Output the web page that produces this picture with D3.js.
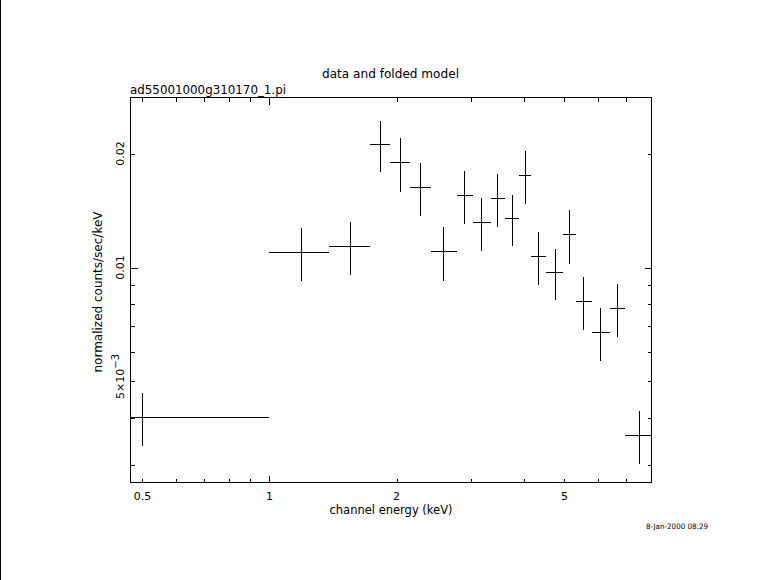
<!DOCTYPE html>
<html>
<head>
<meta charset="utf-8">
<script src="https://cdn.jsdelivr.net/npm/d3@7"></script>
<style>
  html, body { margin: 0; padding: 0; background: #fff; }
  svg { display: block; }
  text { font-family: "DejaVu Sans", sans-serif; fill: #000; }
</style>
</head>
<body>
<svg id="chart" width="781" height="580"></svg>
<script>
// ---- data ----
const binLo   = [0.45, 1.0, 1.38, 1.735, 1.935, 2.152, 2.413, 2.782, 3.03, 3.344, 3.614, 3.912, 4.166, 4.533, 4.974, 5.325, 5.811, 6.411, 6.958];
const binHi   = [1.0, 1.38, 1.735, 1.935, 2.152, 2.413, 2.782, 3.03, 3.344, 3.614, 3.912, 4.166, 4.533, 4.974, 5.325, 5.811, 6.411, 6.958, 8.08];
const energy  = [0.5, 1.19, 1.552, 1.833, 2.046, 2.277, 2.581, 2.894, 3.177, 3.466, 3.762, 4.038, 4.335, 4.757, 5.145, 5.541, 6.080, 6.671, 7.52];
const rate    = [0.004017, 0.01095, 0.01136, 0.02114, 0.01894, 0.01626, 0.01102, 0.01549, 0.01315, 0.01521, 0.01347, 0.0175, 0.01071, 0.0097, 0.01222, 0.00813, 0.00673, 0.00779, 0.0036];
const rateErr = [0.00064, 0.00173, 0.0018, 0.0033, 0.0031, 0.0026, 0.0018, 0.0025, 0.0021, 0.0024, 0.0021, 0.0028, 0.0017, 0.0015, 0.002, 0.0013, 0.00107, 0.00124, 0.00058];

const xMinorTicks = [0.5, 0.6, 0.7, 0.8, 0.9, 2, 3, 4, 5, 6, 7, 8];
const xMajorTicks = [1];
const yMinorTicks = [0.003, 0.004, 0.005, 0.006, 0.007, 0.008, 0.009, 0.02];
const yMajorTicks = [0.01];
const xTickLabelValues = [0.5, 1, 2, 5];
const xTickLabels = ["0.5", "1", "2", "5"];
const yTickLabelValues = [0.02, 0.01];
const yTickLabels = ["0.02", "0.01"];

const titleText = "data and folded model";
const fileText = "ad55001000g310170_1.pi";
const xLabelText = "channel energy (keV)";
const yLabelText = "normalized counts/sec/keV";
const dateText = "8-Jan-2000 08:29";

// ---- layout ----
const L = 130.5, R = 651.5, T = 97.5, B = 482.5;
const x = d3.scaleLog().domain([0.4684, 8.04]).range([L, R]);
const y = d3.scaleLog().domain([0.002705, 0.02812]).range([B, T]);
const px = v => Math.floor(v) + 0.5;

const svg = d3.select("#chart");
svg.append("rect").attr("width", 781).attr("height", 580).attr("fill", "#fff");

// left edge line of the page
svg.append("line").attr("x1", 0.5).attr("x2", 0.5).attr("y1", 0).attr("y2", 580)
  .attr("stroke", "#000").attr("stroke-width", 1);

// clip
svg.append("clipPath").attr("id", "plotclip").append("rect")
  .attr("x", L).attr("y", T).attr("width", R - L).attr("height", B - T);

// axes ticks (inside)
function tickAxis(axisFn, scale, vals, size, transform) {
  const g = svg.append("g").attr("transform", transform)
    .call(axisFn(scale).tickValues(vals).tickSizeInner(-size).tickSizeOuter(0).tickFormat(""));
  g.select(".domain").remove();
  g.selectAll("line").attr("stroke", "#000").attr("shape-rendering", "crispEdges");
  g.selectAll(".tick").attr("transform", function () {
    const t = d3.select(this).attr("transform");
    const m = /translate\(([-\d.e]+),([-\d.e]+)\)/.exec(t);
    const a = +m[1], b = +m[2];
    return (axisFn === d3.axisBottom || axisFn === d3.axisTop)
      ? `translate(${px(a) - 0.5},0)` : `translate(0,${px(b) - 0.5})`;
  });
  return g;
}
tickAxis(d3.axisBottom, x, xMinorTicks, 4, `translate(0,${B})`);
tickAxis(d3.axisBottom, x, xMajorTicks, 7, `translate(0,${B})`);
tickAxis(d3.axisTop, x, xMinorTicks, 4, `translate(0,${T})`);
tickAxis(d3.axisTop, x, xMajorTicks, 7, `translate(0,${T})`);
tickAxis(d3.axisLeft, y, yMinorTicks, 4, `translate(${L},0)`);
tickAxis(d3.axisLeft, y, yMajorTicks, 7, `translate(${L},0)`);
tickAxis(d3.axisRight, y, yMinorTicks, 4, `translate(${R},0)`);
tickAxis(d3.axisRight, y, yMajorTicks, 7, `translate(${R},0)`);

// frame
svg.append("rect").attr("x", L).attr("y", T).attr("width", R - L).attr("height", B - T)
  .attr("fill", "none").attr("stroke", "#000").attr("stroke-width", 1)
  .attr("shape-rendering", "crispEdges");

// data crosses
const pts = energy.map((e, i) => ({ e, lo: binLo[i], hi: binHi[i], r: rate[i], err: rateErr[i] }));
const gData = svg.append("g").attr("clip-path", "url(#plotclip)")
  .attr("stroke", "#000").attr("stroke-width", 1).attr("shape-rendering", "crispEdges");
gData.selectAll("line.h").data(pts).join("line").attr("class", "h")
  .attr("x1", d => x(d.lo)).attr("x2", d => x(d.hi))
  .attr("y1", d => px(y(d.r))).attr("y2", d => px(y(d.r)));
gData.selectAll("line.v").data(pts).join("line").attr("class", "v")
  .attr("x1", d => px(x(d.e))).attr("x2", d => px(x(d.e)))
  .attr("y1", d => y(d.r - d.err)).attr("y2", d => y(d.r + d.err));

// x tick labels
svg.append("g").selectAll("text").data(xTickLabelValues).join("text")
  .attr("x", d => x(d)).attr("y", 499.5).attr("text-anchor", "middle")
  .attr("font-size", 11).text((d, i) => xTickLabels[i]);

// y tick labels (rotated)
svg.append("g").selectAll("text").data(yTickLabelValues).join("text")
  .attr("transform", d => `translate(123.5,${y(d)}) rotate(-90)`)
  .attr("text-anchor", "middle").attr("font-size", 11)
  .text((d, i) => yTickLabels[i]);
const t5 = svg.append("text")
  .attr("transform", `translate(123.5,${y(0.005) - 5}) rotate(-90)`)
  .attr("text-anchor", "middle").attr("font-size", 11);
t5.append("tspan").text("5×10");
t5.append("tspan").attr("dy", -5).attr("font-size", 10).text("−3");

// titles
svg.append("text").attr("x", 390.5).attr("y", 77.5).attr("text-anchor", "middle")
  .attr("font-size", 12).attr("textLength", 137).attr("lengthAdjust", "spacingAndGlyphs").text(titleText);
svg.append("text").attr("x", 130).attr("y", 93.5)
  .attr("font-size", 12).attr("textLength", 156).attr("lengthAdjust", "spacingAndGlyphs").text(fileText);
svg.append("text").attr("x", 391).attr("y", 513.5).attr("text-anchor", "middle")
  .attr("font-size", 12).attr("textLength", 123).attr("lengthAdjust", "spacingAndGlyphs").text(xLabelText);
svg.append("text").attr("transform", "translate(101.5,292) rotate(-90)").attr("text-anchor", "middle")
  .attr("font-size", 12).attr("textLength", 161).attr("lengthAdjust", "spacingAndGlyphs").text(yLabelText);
svg.append("text").attr("x", 646).attr("y", 528.5)
  .attr("font-size", 7.5).attr("textLength", 62).attr("lengthAdjust", "spacingAndGlyphs").text(dateText);
</script>
</body>
</html>
